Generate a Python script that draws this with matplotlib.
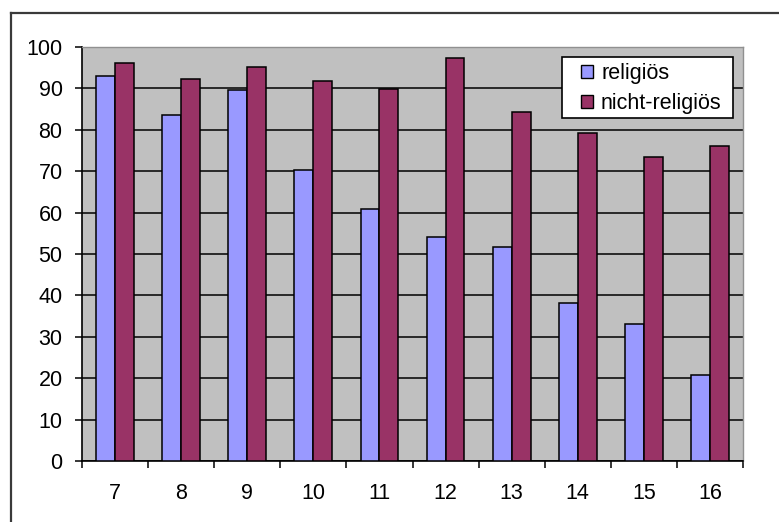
import matplotlib
matplotlib.use("Agg")
import matplotlib.pyplot as plt
from matplotlib.lines import Line2D
from matplotlib.patches import Rectangle
import numpy as np

plt.rcParams['font.family'] = ['Liberation Sans', 'DejaVu Sans']

categories = ["7", "8", "9", "10", "11", "12", "13", "14", "15", "16"]
religioes = [93.0, 83.6, 89.5, 70.3, 60.8, 54.2, 51.8, 38.1, 33.0, 20.8]
nicht_religioes = [96.2, 92.2, 95.2, 91.9, 89.8, 97.3, 84.4, 79.2, 73.4, 76.1]
series_names = ["religiös", "nicht-religiös"]
y_ticks = [0, 10, 20, 30, 40, 50, 60, 70, 80, 90, 100]

W, H = 779, 522
FS = 15.5
fig = plt.figure(figsize=(W / 100, H / 100), dpi=100)
fig.patch.set_facecolor("white")

# outer chart frame (top and left edges)
fig.add_artist(Line2D([11 / W, 1.0], [1 - 13 / H, 1 - 13 / H], transform=fig.transFigure,
                      color="#3a3a3a", lw=1.6))
fig.add_artist(Line2D([11 / W, 11 / W], [0.0, 1 - 13 / H], transform=fig.transFigure,
                      color="#3a3a3a", lw=1.6))

ax = fig.add_axes([82 / W, 1 - 461 / H, (743 - 82) / W, (461 - 47) / H])
ax.set_facecolor("#C0C0C0")

x = np.arange(len(categories))
w = 1 / 3.5
ax.bar(x - w / 2, religioes, w, color="#9999FF", edgecolor="black", linewidth=1.1,
       label=series_names[0], zorder=3)
ax.bar(x + w / 2, nicht_religioes, w, color="#993366", edgecolor="black", linewidth=1.1,
       label=series_names[1], zorder=3)

ax.set_xlim(-0.5, len(categories) - 0.5)
ax.set_ylim(0, 100)
ax.set_yticks(y_ticks)
ax.yaxis.grid(True, color="black", linewidth=1.1, zorder=1)
ax.set_axisbelow(True)

ax.set_xticks(x)
ax.set_xticklabels(categories)
ax.set_xticks(np.arange(len(categories) + 1) - 0.5, minor=True)
ax.tick_params(axis="x", which="major", length=0, pad=16, labelsize=FS)
ax.tick_params(axis="x", which="minor", length=5, width=1.1, direction="out", color="black")
ax.tick_params(axis="y", length=5, width=1.1, direction="out", pad=9, labelsize=FS)

for side in ("left", "bottom"):
    ax.spines[side].set_color("black")
    ax.spines[side].set_linewidth(1.2)
for side in ("top", "right"):
    ax.spines[side].set_color("#909090")
    ax.spines[side].set_linewidth(1.0)

# legend box with its own frame
ax.add_patch(Rectangle((562 / W, 1 - 118 / H), (733 - 562) / W, (118 - 57) / H,
                       transform=fig.transFigure, facecolor="white", edgecolor="black",
                       linewidth=1.2, zorder=4, clip_on=False))
leg = ax.legend(loc="upper left", bbox_to_anchor=(581 / W, 1 - 63 / H),
                bbox_transform=fig.transFigure, fontsize=FS, frameon=False,
                handlelength=0.56, handleheight=0.56, handletextpad=0.37,
                borderpad=0, labelspacing=0.42, borderaxespad=0)
leg.set_zorder(5)
for h in leg.legend_handles:
    h.set_linewidth(1.0)

fig.savefig("out.png", dpi=100, facecolor="white")
